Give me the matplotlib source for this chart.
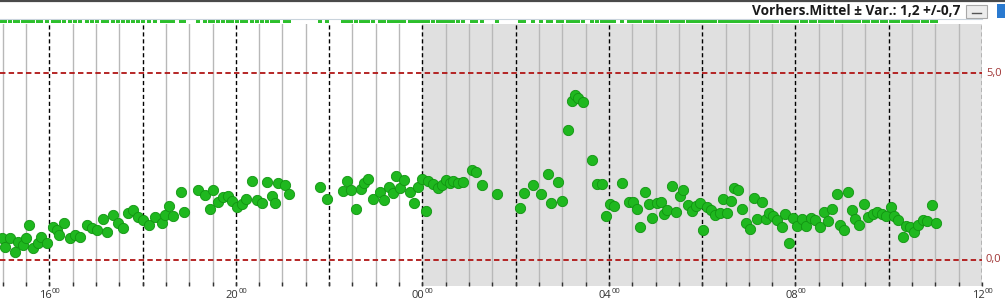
import matplotlib
matplotlib.use("Agg")
import matplotlib.pyplot as plt
import matplotlib.transforms as mtransforms
from matplotlib.patches import Rectangle
from matplotlib.lines import Line2D

# measurement times (hours after midnight of the first day, >24 = next day)
hours = [14.99, 15.05, 15.16, 15.26, 15.33, 15.44, 15.50, 15.57, 15.65, 15.76,
         15.82, 15.95, 16.08, 16.16, 16.21, 16.32, 16.44, 16.55, 16.66, 16.81,
         16.92, 17.02, 17.15, 17.24, 17.37, 17.47, 17.58, 17.69, 17.79, 17.90,
         18.01, 18.14, 18.27, 18.42, 18.48, 18.57, 18.65, 18.82, 18.89, 19.19,
         19.34, 19.45, 19.51, 19.62, 19.72, 19.83, 19.92, 20.02, 20.13, 20.22,
         20.35, 20.45, 20.56, 20.67, 20.77, 20.84, 20.90, 21.05, 21.14, 21.80,
         21.95, 22.30, 22.38, 22.47, 22.57, 22.68, 22.75, 22.83, 22.94, 23.09,
         23.18, 23.28, 23.37, 23.43, 23.52, 23.60, 23.73, 23.82, 23.90, 23.99,
         24.07, 24.12, 24.22, 24.33, 24.42, 24.50, 24.59, 24.65, 24.76, 24.87,
         25.06, 25.15, 25.28, 25.60, 26.09, 26.18, 26.37, 26.54, 26.69, 26.75,
         26.91, 26.99, 27.12, 27.20, 27.27, 27.33, 27.44, 27.63, 27.74, 27.85,
         27.93, 28.02, 28.11, 28.28, 28.43, 28.51, 28.60, 28.66, 28.77, 28.85,
         28.92, 29.03, 29.11, 29.18, 29.24, 29.35, 29.43, 29.52, 29.58, 29.69,
         29.78, 29.86, 29.95, 30.01, 30.10, 30.18, 30.27, 30.38, 30.44, 30.53,
         30.61, 30.68, 30.76, 30.85, 30.93, 31.02, 31.11, 31.17, 31.28, 31.36,
         31.43, 31.51, 31.60, 31.71, 31.77, 31.86, 31.94, 32.03, 32.14, 32.22,
         32.33, 32.41, 32.52, 32.61, 32.69, 32.78, 32.89, 32.95, 33.04, 33.12,
         33.21, 33.27, 33.36, 33.46, 33.55, 33.66, 33.74, 33.85, 33.94, 34.04,
         34.11, 34.19, 34.30, 34.37, 34.45, 34.54, 34.62, 34.73, 34.82, 34.92,
         35.01]

values = [0.59, 0.35, 0.59, 0.21, 0.48, 0.40, 0.59, 0.94, 0.32, 0.46,
          0.62, 0.46, 0.88, 0.80, 0.67, 0.99, 0.59, 0.67, 0.62, 0.94,
          0.86, 0.80, 1.10, 0.75, 1.21, 0.99, 0.86, 1.26, 1.34, 1.15,
          1.07, 0.94, 1.15, 0.99, 1.21, 1.45, 1.18, 1.82, 1.29, 1.88,
          1.74, 1.37, 1.88, 1.55, 1.69, 1.71, 1.58, 1.42, 1.50, 1.63,
          2.12, 1.61, 1.53, 2.09, 1.71, 1.53, 2.06, 2.01, 1.77, 1.96,
          1.63, 1.85, 2.12, 1.88, 1.37, 1.90, 2.06, 2.17, 1.63, 1.82,
          1.61, 1.96, 1.79, 2.25, 1.93, 2.14, 1.82, 1.53, 1.96, 2.17,
          1.31, 2.12, 2.04, 1.93, 2.01, 2.14, 2.06, 2.12, 2.06, 2.09,
          2.41, 2.36, 2.01, 1.77, 1.39, 1.79, 2.01, 1.77, 2.30, 1.53,
          2.09, 1.58, 3.48, 4.26, 4.42, 4.34, 4.23, 2.68, 2.04, 2.04,
          1.18, 1.50, 1.45, 2.06, 1.55, 1.55, 1.37, 0.88, 1.82, 1.50,
          1.13, 1.53, 1.55, 1.23, 1.34, 1.98, 1.29, 1.71, 1.88, 1.47,
          1.31, 1.45, 1.53, 0.80, 1.42, 1.34, 1.21, 1.26, 1.63, 1.26,
          1.58, 1.93, 1.88, 1.37, 0.99, 0.83, 1.66, 1.10, 1.55, 1.10,
          1.26, 1.18, 1.07, 0.88, 1.23, 0.46, 1.13, 0.91, 1.10, 0.91,
          1.13, 1.07, 0.88, 1.29, 1.04, 1.37, 1.77, 0.94, 0.80, 1.82,
          1.34, 1.10, 0.94, 1.50, 1.15, 1.23, 1.29, 1.23, 1.18, 1.42,
          1.18, 1.07, 0.62, 0.91, 0.88, 0.75, 0.94, 1.07, 1.04, 1.47,
          0.99]

limit_values = [0.0, 5.0]
limit_labels = ["0,0", "5,0"]
label_hours = [16, 20, 24, 28, 32, 36]
label_texts = ["16", "20", "00", "04", "08", "12"]
night_start = 24  # shaded part starts at midnight
title = "Vorhers.Mittel \u00b1 Var.: 1,2 +/-0,7"

plt.rcParams["font.family"] = ["Open Sans", "DejaVu Sans"]

W, H = 1005, 300
fig = plt.figure(figsize=(W / 100, H / 100), dpi=100)
fig.patch.set_facecolor("white")

ax = fig.add_axes([0, 14 / H, 982 / W, 262 / H])
x_left = 16 - 49.3 / 46.65
ax.set_xlim(x_left, 36)
ax.set_ylim(-0.70, 6.32)
for s in ax.spines.values():
    s.set_visible(False)

ax.axvspan(night_start, 36, color="#e0e0e0", lw=0, zorder=0)  # grey night region

half_hours = [15 + 0.5 * i for i in range(43)]
for h in half_hours:
    if h % 2 == 0:
        ax.axvline(h, color="black", lw=1, ls=(0, (3, 2)), zorder=1)  # 2h dashed lines
    else:
        ax.axvline(h, color="#b8b8b8", lw=1, zorder=1)

for v in limit_values:
    ax.axhline(v, color="#b01515", lw=1.3, ls=(0, (3, 1.8)), zorder=2)

ax.set_xticks(half_hours)
ax.set_yticks([])
ax.tick_params(axis="x", direction="in", length=3, width=1, color="#333333", labelbottom=False)

ax.scatter(hours, values, s=55, color="#1fb81f", edgecolors="#129412", linewidths=0.6, zorder=3)

# value labels on the right
tr = mtransforms.blended_transform_factory(ax.transAxes, ax.transData)
for v, lab in zip(limit_values, limit_labels):
    ax.text(1.004, v, lab, transform=tr, color="#a03535", fontsize=8, va="center", ha="left")

# hour labels with superscript minutes
trx = mtransforms.blended_transform_factory(ax.transData, fig.transFigure)
for h, lab in zip(label_hours, label_texts):
    ax.text(h + 0.05, 2 / H, lab, transform=trx, fontsize=8, color="#333333", ha="right", va="baseline")
    ax.text(h + 0.05, 7 / H, "00", transform=trx, fontsize=5.5, color="#333333", ha="left", va="baseline")

# data availability strip on top
rug = fig.add_axes([0, 276 / H, 982 / W, 6 / H], sharex=ax)
rug.set_ylim(0, 1)
rug.axis("off")
rug.plot(hours, [0.45] * len(hours), ls="none", marker="s", markersize=2.6, mew=0, color="#2cbf2c")
fig.add_artist(Line2D([0, 982 / W], [281.5 / H, 281.5 / H], color="#c9d3dc", lw=0.8))

# window header
fig.add_artist(Line2D([0, 1], [1 - 0.7 / H, 1 - 0.7 / H], color="#4a4a4a", lw=1.6))
fig.text(960 / W, 1 - 11 / H, title, fontsize=9.8, weight="bold", color="#1a1a1a", ha="right", va="center")
fig.add_artist(Rectangle((966 / W, 1 - 18 / H), 21 / W, 13 / H, transform=fig.transFigure,
                         facecolor="#ececec", edgecolor="#a8a8a8", lw=0.8))
fig.add_artist(Line2D([972 / W, 981 / W], [1 - 13 / H, 1 - 13 / H], color="#555555", lw=1))
fig.add_artist(Rectangle((997 / W, 1 - 18 / H), 8 / W, 14 / H, transform=fig.transFigure,
                         facecolor="#2a7ad0", edgecolor="none"))

fig.savefig("out.png", dpi=100)
